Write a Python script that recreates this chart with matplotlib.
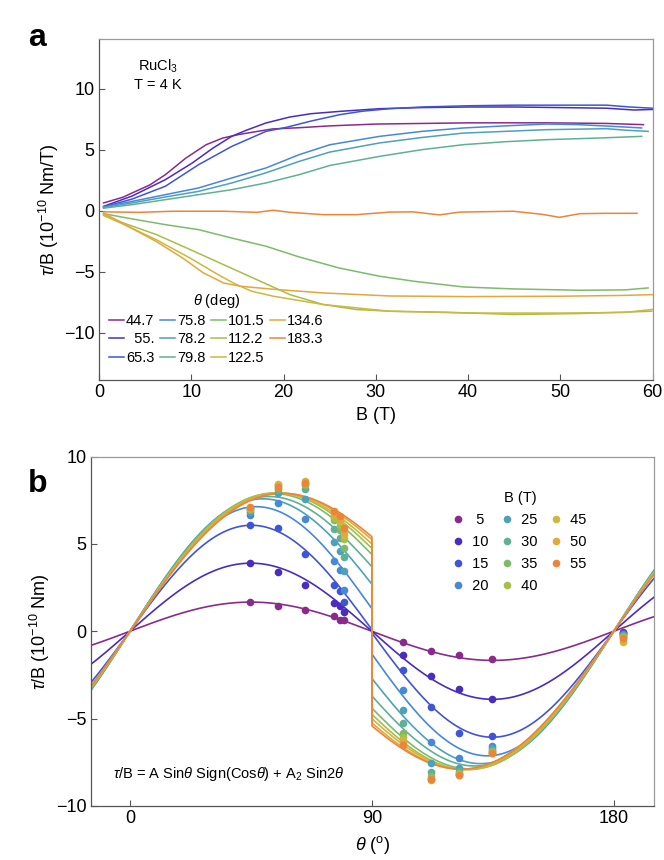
import numpy as np
from matplotlib import pyplot as plt

plt.rcParams['font.family'] = ['Liberation Sans', 'DejaVu Sans']
plt.rcParams['mathtext.fontset'] = 'custom'
plt.rcParams['mathtext.rm'] = 'Liberation Sans'
plt.rcParams['mathtext.it'] = 'Liberation Sans:italic'

# colours, purple -> orange
cols = ['#8a2a8c', '#4a2dbf', '#3f55d6', '#4788d8', '#4ea0bb', '#5fb094',
        '#7dbb6a', '#a6bf47', '#cdb73c', '#e4a73a', '#ea853a']

# ---- panel a : tau/B vs B for each angle ----
angles_lbl = ['44.7', '  55.', '65.3', '75.8', '78.2', '79.8',
              '101.5', '112.2', '122.5', '134.6', '183.3']

b_447 = [0.5, 2.6, 3.6, 5.5, 7.2, 9.4, 11.6, 13.4, 15.2, 18.8, 21.7, 25, 30, 40, 48.5, 55, 59]
v_447 = [0.63, 1.1, 1.45, 2.1, 2.95, 4.3, 5.4, 5.95, 6.25, 6.7, 6.8, 6.95, 7.1, 7.2, 7.2, 7.15, 7.05]

b_550 = [0.5, 3.6, 7.2, 10.1, 12.3, 14.4, 16, 18.1, 20.7, 23, 26.1, 30.4, 35, 40, 45, 50, 55, 58, 60]
v_550 = [0.35, 1.2, 2.54, 3.9, 5.1, 6.1, 6.6, 7.19, 7.68, 7.95, 8.14, 8.36, 8.45, 8.5, 8.5, 8.45, 8.4, 8.25, 8.3]

b_653 = [0.5, 3.6, 7.2, 10.8, 14.4, 18.1, 20.3, 23, 26.1, 28.5, 31.5, 35, 40, 45, 50, 55, 57.5, 60]
v_653 = [0.3, 0.95, 2.0, 3.77, 5.27, 6.5, 6.83, 7.35, 7.87, 8.15, 8.36, 8.5, 8.6, 8.65, 8.65, 8.65, 8.5, 8.4]

b_758 = [0.5, 3.6, 7.2, 10.8, 14.4, 18.1, 21.7, 25, 30.4, 35, 39.5, 44, 48.5, 52, 55.7, 58.8]
v_758 = [0.3, 0.76, 1.31, 1.86, 2.68, 3.5, 4.59, 5.4, 6.09, 6.5, 6.78, 6.95, 7.1, 7.05, 6.91, 6.78]

b_782 = [0.5, 3.6, 7.2, 10.8, 14.4, 18.1, 21.7, 25, 30.4, 35, 39.5, 44, 48.5, 55, 57, 59.5]
v_782 = [0.25, 0.63, 1.12, 1.58, 2.27, 3.1, 4.04, 4.8, 5.55, 6.0, 6.36, 6.5, 6.64, 6.72, 6.6, 6.5]

b_798 = [0.5, 3.6, 7.2, 10.8, 14.4, 18.1, 21.7, 25, 30.4, 35, 39.5, 44, 48.5, 54, 58.8]
v_798 = [0.2, 0.49, 0.9, 1.31, 1.72, 2.27, 2.95, 3.7, 4.45, 5.0, 5.41, 5.65, 5.82, 5.95, 6.09]

b_1015 = [0.5, 3.6, 7.2, 10.8, 14.4, 18.1, 21.7, 26, 30.4, 34.1, 39.5, 44.9, 52.1, 57, 59.5]
v_1015 = [-0.25, -0.68, -1.15, -1.56, -2.25, -2.92, -3.8, -4.7, -5.38, -5.79, -6.26, -6.42, -6.53, -6.5, -6.34]

b_1122 = [0.5, 2.6, 6.25, 9.9, 13.5, 17.1, 20.7, 24.3, 27.9, 31.5, 37.7, 44.9, 52.1, 59.9]
v_1122 = [-0.33, -1.0, -1.97, -3.2, -4.43, -5.66, -6.89, -7.7, -8.11, -8.25, -8.33, -8.52, -8.44, -8.25]

b_1225 = [0.5, 2.6, 6.25, 9.9, 12.8, 14.6, 16.5, 18.9, 24.3, 31.5, 40, 50, 57, 60]
v_1225 = [-0.4, -1.1, -2.4, -3.9, -5.2, -5.95, -6.6, -7.02, -7.7, -8.25, -8.4, -8.4, -8.35, -8.1]

b_1346 = [0.5, 2.6, 6.25, 9.1, 11.3, 13.5, 15.3, 18.9, 24.3, 31.5, 40, 50, 57, 60]
v_1346 = [-0.2, -1.05, -2.55, -3.9, -5.1, -5.93, -6.2, -6.45, -6.75, -7.0, -7.05, -7.02, -6.95, -6.89]

b_1833 = [0.5, 4.4, 8, 13.5, 17.1, 18.9, 20.7, 24.3, 27.9, 31.5, 34, 36.9, 39.1, 44.9, 48, 49.9, 52.1, 55, 58.3]
v_1833 = [-0.1, -0.14, -0.05, -0.05, -0.14, 0.03, -0.14, -0.33, -0.33, -0.12, -0.1, -0.35, -0.12, -0.05, -0.3, -0.55, -0.25, -0.22, -0.22]

curves_a = [(b_447, v_447), (b_550, v_550), (b_653, v_653), (b_758, v_758),
            (b_782, v_782), (b_798, v_798), (b_1015, v_1015), (b_1122, v_1122),
            (b_1225, v_1225), (b_1346, v_1346), (b_1833, v_1833)]

# ---- panel b : tau/B vs angle for each field ----
theta_pts = [44.7, 55, 65.3, 75.8, 78.2, 79.8, 101.5, 112.2, 122.5, 134.6, 183.3]
fields = [5, 10, 15, 20, 25, 30, 35, 40, 45, 50, 55]

tau_5 = [1.67, 1.44, 1.19, 0.87, 0.64, 0.62, -0.61, -1.14, -1.36, -1.59, -0.05]
tau_10 = [3.9, 3.37, 2.63, 1.63, 1.44, 1.12, -1.35, -2.58, -3.3, -3.86, -0.08]
tau_15 = [6.08, 5.89, 4.41, 2.63, 2.29, 1.69, -2.22, -4.36, -5.83, -6.02, -0.1]
tau_20 = [6.65, 7.35, 6.42, 4.0, 3.49, 2.35, -3.39, -6.36, -7.27, -6.55, -0.15]
tau_25 = [6.85, 7.92, 7.6, 5.1, 4.62, 3.47, -4.53, -7.52, -7.84, -6.7, -0.2]
tau_30 = [6.95, 8.1, 8.13, 5.85, 5.32, 4.28, -5.25, -8.07, -8.0, -6.8, -0.25]
tau_35 = [7.0, 8.2, 8.35, 6.36, 5.8, 4.79, -5.81, -8.3, -8.1, -6.85, -0.3]
tau_40 = [7.0, 8.4, 8.45, 6.5, 6.08, 5.27, -6.05, -8.4, -8.15, -6.9, -0.35]
tau_45 = [7.05, 8.45, 8.6, 6.65, 6.3, 5.5, -6.25, -8.45, -8.2, -6.95, -0.6]
tau_50 = [7.05, 8.35, 8.55, 6.8, 6.45, 5.7, -6.4, -8.5, -8.25, -7.0, -0.45]
tau_55 = [7.1, 8.25, 8.5, 6.9, 6.59, 5.89, -6.51, -8.45, -8.22, -6.99, -0.38]
tau_pts = [tau_5, tau_10, tau_15, tau_20, tau_25, tau_30, tau_35, tau_40, tau_45, tau_50, tau_55]

# fit parameters: tau/B = A sin(t) sign(cos t) + A2 sin(2t)
A_fit = [0.0, 0.0, 0.1, 1.3, 2.7, 3.7, 4.4, 4.75, 5.0, 5.25, 5.42]
A2_fit = [1.67, 3.9, 6.0, 6.2, 5.6, 4.95, 4.55, 4.3, 4.06, 3.84, 3.67]

fig = plt.figure(figsize=(6.64, 8.6), dpi=100)
axa = fig.add_axes([0.149, 0.558, 0.834, 0.397])
axb = fig.add_axes([0.137, 0.063, 0.848, 0.406])


def style(ax):
    for s in ['left', 'bottom']:
        ax.spines[s].set_color('#555555')
    for s in ['top', 'right']:
        ax.spines[s].set_color('#999999')
    for s in ax.spines.values():
        s.set_linewidth(0.9)
    ax.tick_params(direction='in', length=4, width=0.8, color='#555555',
                   labelsize=13, pad=3)


# panel a
for i in range(len(curves_a)):
    axa.plot(curves_a[i][0], curves_a[i][1], '-', color=cols[i], lw=1.1,
             label=angles_lbl[i])
axa.set_xlim(0, 60)
axa.set_ylim(-13.9, 14.1)
axa.set_xticks([0, 10, 20, 30, 40, 50, 60])
axa.set_yticks([-10, -5, 0, 5, 10])
style(axa)
axa.set_xlabel('B (T)', fontsize=13, labelpad=4)
axa.set_ylabel(r'$\tau$/B (10$^{-10}$ Nm/T)', fontsize=13, labelpad=2)
axa.text(0.106, 0.945, 'RuCl$_3$\nT = 4 K', transform=axa.transAxes,
         ha='center', va='top', fontsize=10.5, linespacing=1.3)
axa.legend(loc='lower left', bbox_to_anchor=(0.0, 0.015), ncol=4,
           frameon=False, fontsize=10.5, title=r'$\theta$ (deg)',
           title_fontsize=10.5, handlelength=1.0, handletextpad=0.15,
           columnspacing=0.4, labelspacing=0.3, borderpad=0.2)

# panel b
th = np.linspace(-15, 195, 2101)
for i in range(len(fields)):
    t = np.radians(th)
    fit = A_fit[i]*np.sin(t)*np.sign(np.cos(t)) + A2_fit[i]*np.sin(2*t)
    axb.plot(th, fit, '-', color=cols[i], lw=1.2)
for i in range(len(fields)):
    axb.plot(theta_pts, tau_pts[i], 'o', color=cols[i], ms=5.5, mew=0,
             ls='none', label='%3d' % fields[i])
axb.set_xlim(-14.5, 195)
axb.set_ylim(-10, 10)
axb.set_xticks([0, 90, 180])
axb.set_yticks([-10, -5, 0, 5, 10])
style(axb)
axb.set_xlabel(r'$\theta$ ($^{\rm o}$)', fontsize=13, labelpad=5)
axb.set_ylabel(r'$\tau$/B (10$^{-10}$ Nm)', fontsize=13, labelpad=3)
axb.text(0.04, 0.09, r'$\tau$/B = A Sin$\theta$ Sign(Cos$\theta$) + A$_2$ Sin2$\theta$',
         transform=axb.transAxes, fontsize=10.5, ha='left', va='center')
axb.legend(loc='upper left', bbox_to_anchor=(0.626, 0.93), ncol=3,
           frameon=False, fontsize=10.5, title='B (T)', title_fontsize=10.5,
           handlelength=0.6, handletextpad=0.4, columnspacing=0.95,
           labelspacing=0.55, borderpad=0.2)

fig.text(0.042, 0.947, 'a', fontsize=23, fontweight='bold')
fig.text(0.042, 0.428, 'b', fontsize=23, fontweight='bold')

plt.savefig('out.png', dpi=100)
